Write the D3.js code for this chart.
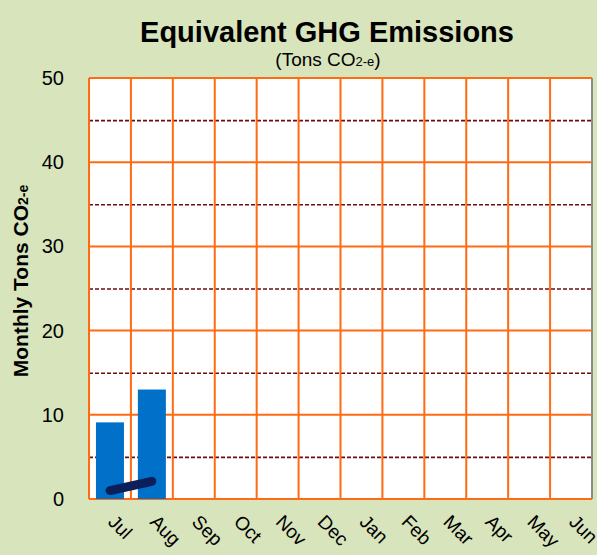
<!DOCTYPE html>
<html>
<head>
<meta charset="utf-8">
<script src="https://d3js.org/d3.v7.min.js"></script>
<style>
  body { margin: 0; background: #d8e4bc; }
  text { font-family: "Liberation Sans", Arial, sans-serif; }
</style>
</head>
<body>
<div id="chart"></div>
<script>
    // data
    var months = ["Jul", "Aug", "Sep", "Oct", "Nov", "Dec", "Jan", "Feb", "Mar", "Apr", "May", "Jun"];
    var monthly = [9.1, 13.0];          // bars
    var cumulative = [1.0, 2.1];        // dark line
    var solidTicks = [0, 10, 20, 30, 40, 50];
    var dashTicks = [5, 15, 25, 35, 45];

    var width = 597, height = 555;
    var margin = {top: 78, right: 5, bottom: 56, left: 89};

    const svg = d3.select("#chart").append("svg")
        .attr("width", width)
        .attr("height", height);

    svg.append("rect")
        .attr("width", width).attr("height", height)
        .attr("fill", "#d8e4bc");

    var x = d3.scaleBand()
        .domain(months)
        .range([margin.left, width - margin.right]);

    var y = d3.scaleLinear()
        .domain([0, 50])
        .range([height - margin.bottom, margin.top]);

    // plot area
    svg.append("rect")
        .attr("x", margin.left)
        .attr("y", y(50))
        .attr("width", x.range()[1] - margin.left)
        .attr("height", y(0) - y(50))
        .attr("fill", "white");

    // dashed minor lines
    svg.selectAll(".dash")
        .data(dashTicks)
        .enter().append("line")
        .attr("x1", margin.left).attr("x2", x.range()[1])
        .attr("y1", d => y(d) + 0.5).attr("y2", d => y(d) + 0.5)
        .attr("stroke", "#6b0f0f")
        .attr("stroke-width", 1.6)
        .attr("stroke-dasharray", "4,2");

    // vertical grid
    svg.selectAll(".vg")
        .data(months)
        .enter().append("line")
        .attr("x1", d => x(d)).attr("x2", d => x(d))
        .attr("y1", y(50)).attr("y2", y(0))
        .attr("stroke", "#ff6a13")
        .attr("stroke-width", 2);

    // horizontal grid
    svg.selectAll(".hg")
        .data(solidTicks)
        .enter().append("line")
        .attr("x1", margin.left).attr("x2", x.range()[1])
        .attr("y1", d => y(d)).attr("y2", d => y(d))
        .attr("stroke", "#ff6a13")
        .attr("stroke-width", 2);

    // right border
    svg.append("line")
        .attr("x1", x.range()[1]).attr("x2", x.range()[1])
        .attr("y1", y(50)).attr("y2", y(0))
        .attr("stroke", "#8c8c8c")
        .attr("stroke-width", 2);

    // bars
    var barW = 28;
    svg.selectAll(".bar")
        .data(monthly)
        .enter().append("rect")
        .attr("x", (d, i) => x(months[i]) + (x.bandwidth() - barW) / 2)
        .attr("y", d => y(d))
        .attr("width", barW)
        .attr("height", d => y(0) - y(d))
        .attr("fill", "#0070c8");

    // cumulative line
    svg.append("path")
        .datum(cumulative)
        .attr("fill", "none")
        .attr("stroke", "#0c1f5a")
        .attr("stroke-width", 9)
        .attr("stroke-linecap", "round")
        .attr("d", d3.line()
            .x((d, i) => x(months[i]) + x.bandwidth() / 2)
            .y(d => y(d)));

    // y tick labels
    svg.selectAll(".yl")
        .data(solidTicks)
        .enter().append("text")
        .attr("x", 64)
        .attr("y", d => y(d))
        .attr("dy", "0.35em")
        .attr("text-anchor", "end")
        .attr("font-size", "20px")
        .text(d => d);

    // x tick labels
    svg.selectAll(".xl")
        .data(months)
        .enter().append("text")
        .attr("transform", d => `translate(${x(d) + x.bandwidth() / 2 - 3},${y(0) + 24}) rotate(45)`)
        .attr("font-size", "19px")
        .text(d => d);

    // titles
    svg.append("text")
        .attr("x", 327).attr("y", 42)
        .attr("text-anchor", "middle")
        .attr("font-size", "29px")
        .attr("font-weight", "bold")
        .text("Equivalent GHG Emissions");

    var sub = svg.append("text")
        .attr("x", 328).attr("y", 66)
        .attr("text-anchor", "middle")
        .attr("font-size", "19px");
    sub.append("tspan").text("(Tons CO");
    sub.append("tspan").attr("font-size", "13px").text("2-e");
    sub.append("tspan").text(")");

    var yt = svg.append("text")
        .attr("transform", "translate(28,281) rotate(-90)")
        .attr("text-anchor", "middle")
        .attr("font-size", "21px")
        .attr("font-weight", "bold");
    yt.append("tspan").text("Monthly Tons CO");
    yt.append("tspan").attr("font-size", "14px").text("2-e");
</script>
</body>
</html>
